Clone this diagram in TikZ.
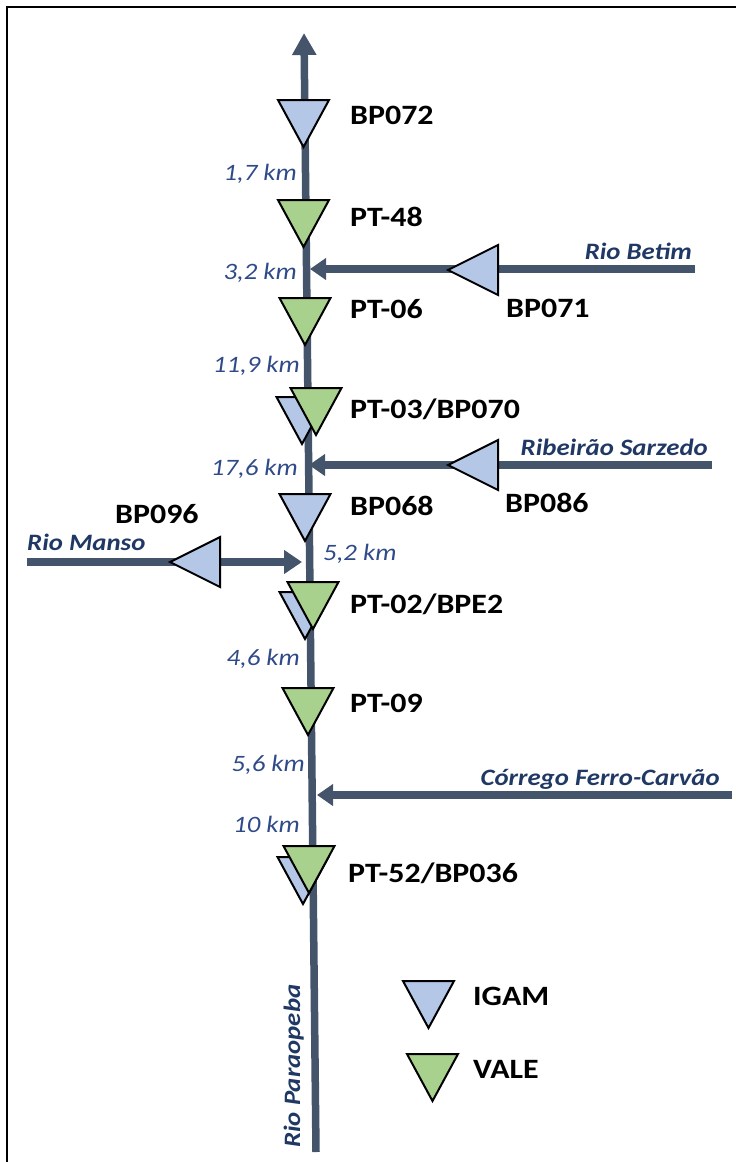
\documentclass[tikz,border=0pt]{standalone}
\usepackage{fontspec}
\setmainfont{Carlito}[FakeStretch=1.14]
\usetikzlibrary{arrows.meta}
\definecolor{rivercol}{HTML}{44546A}
\definecolor{navy}{HTML}{203864}
\definecolor{kmcol}{HTML}{2F4A88}
\definecolor{igam}{HTML}{B4C7E7}
\definecolor{vale}{HTML}{A9D18E}
\newcommand\dtri[4]{%
  \draw[station, fill=#4] ({#2-25.5},#3) coordinate (#1) -- ({#2+25.5},#3) -- (#2,{#3+47}) -- cycle;}
\newcommand\ltri[4]{%
  \draw[station, fill=#4] (#2,#3) coordinate (#1) -- ({#2+50},{#3-25}) -- ({#2+50},{#3+25}) -- cycle;}
\begin{document}
\begin{tikzpicture}[x=1pt,y=-1pt,
  river/.style={draw=rivercol, line width=7.5pt},
  station/.style={draw=black, line width=2pt, line join=miter},
  lbl/.style={font=\fontsize{28}{32}\selectfont\bfseries, inner sep=0pt, anchor=base west},
  kml/.style={font=\fontsize{23.5}{27}\selectfont\itshape, text=kmcol, inner sep=0pt, anchor=base east},
  rname/.style={font=\fontsize{23.5}{27}\selectfont\bfseries\itshape, text=navy, inner sep=0pt},
  frame/.style={draw=black, line width=2.5pt}]
\useasboundingbox (0,0) rectangle (736,1162);
\draw[frame] (736,7) -- (7,7) -- (7,1162);

% main river
\coordinate (src) at (316,1152);
\coordinate (mouth) at (304,33);
\draw[river, -{Triangle[length=22pt,width=23pt]}] (src) -- (mouth);

% tributaries
\coordinate (betimS) at (695,269);
\coordinate (betimJ) at (310,269);
\coordinate (sarzS) at (712,465);
\coordinate (sarzJ) at (309,465);
\coordinate (mansoS) at (27,562);
\coordinate (mansoJ) at (302,562);
\coordinate (ferroS) at (732,795);
\coordinate (ferroJ) at (317,795);
\draw[river, -{Triangle[length=16pt,width=21pt]}] (betimS) -- (betimJ);
\draw[river, -{Triangle[length=16pt,width=21pt]}] (sarzS) -- (sarzJ);
\draw[river, -{Triangle[length=18pt,width=23pt]}] (mansoS) -- (mansoJ);
\draw[river, -{Triangle[length=16pt,width=21pt]}] (ferroS) -- (ferroJ);

% stations on main river
\dtri{t72}{303.5}{100}{igam}
\dtri{t48}{303.5}{200}{vale}
\dtri{t06}{305}{298}{vale}
\dtri{t70}{302}{397}{igam}
\dtri{t03}{316}{388}{vale}
\dtri{t68}{305}{494}{igam}
\dtri{te2}{305}{592}{igam}
\dtri{t02}{313}{582}{vale}
\dtri{t09}{308}{688}{vale}
\dtri{t36}{303}{857}{igam}
\dtri{t52}{309}{846}{vale}

% stations on tributaries
\ltri{t71}{448}{270}{igam}
\ltri{t86}{448}{465}{igam}
\ltri{t96}{170}{562}{igam}

% legend
\dtri{lg1}{428.5}{981}{igam}
\dtri{lg2}{432.5}{1054}{vale}

% station labels
\node[lbl] (l72) at (350,124) {BP072};
\node[lbl] (l48) at (350,226) {PT-48};
\node[lbl] (l06) at (350,318) {PT-06};
\node[lbl] (l03) at (350,418) {PT-03/BP070};
\node[lbl] (l68) at (350,515) {BP068};
\node[lbl] (l02) at (350,613) {PT-02/BPE2};
\node[lbl] (l09) at (350,712) {PT-09};
\node[lbl] (l52) at (348,882) {PT-52/BP036};
\node[lbl] (l71) at (506,317) {BP071};
\node[lbl] (l86) at (505,512) {BP086};
\node[lbl] (l96) at (115,523) {BP096};
\node[lbl] (lg1l) at (473,1005) {IGAM};
\node[lbl] (lg2l) at (473,1078) {VALE};

% distances
\node[kml] (k1) at (297,180) {1,7 km};
\node[kml] (k2) at (297,279) {3,2 km};
\node[kml] (k3) at (300,372) {11,9 km};
\node[kml] (k4) at (298,475) {17,6 km};
\node[kml, anchor=base west] (k5) at (323,560) {5,2 km};
\node[kml] (k6) at (300,665) {4,6 km};
\node[kml] (k7) at (305,771) {5,6 km};
\node[kml] (k8) at (300,832) {10 km};

% river names
\node[rname, anchor=base east] (n1) at (692,259) {Rio Betim};
\node[rname, anchor=base east] (n2) at (708,455) {Ribeirão Sarzedo};
\node[rname, anchor=base east] (n3) at (720,785) {Córrego Ferro-Carvão};
\node[rname, anchor=base west] (n4) at (27,550) {Rio Manso};
\node[rname, anchor=base west, rotate=90] (n5) at (300,1148) {Rio Paraopeba};
\end{tikzpicture}
\end{document}
